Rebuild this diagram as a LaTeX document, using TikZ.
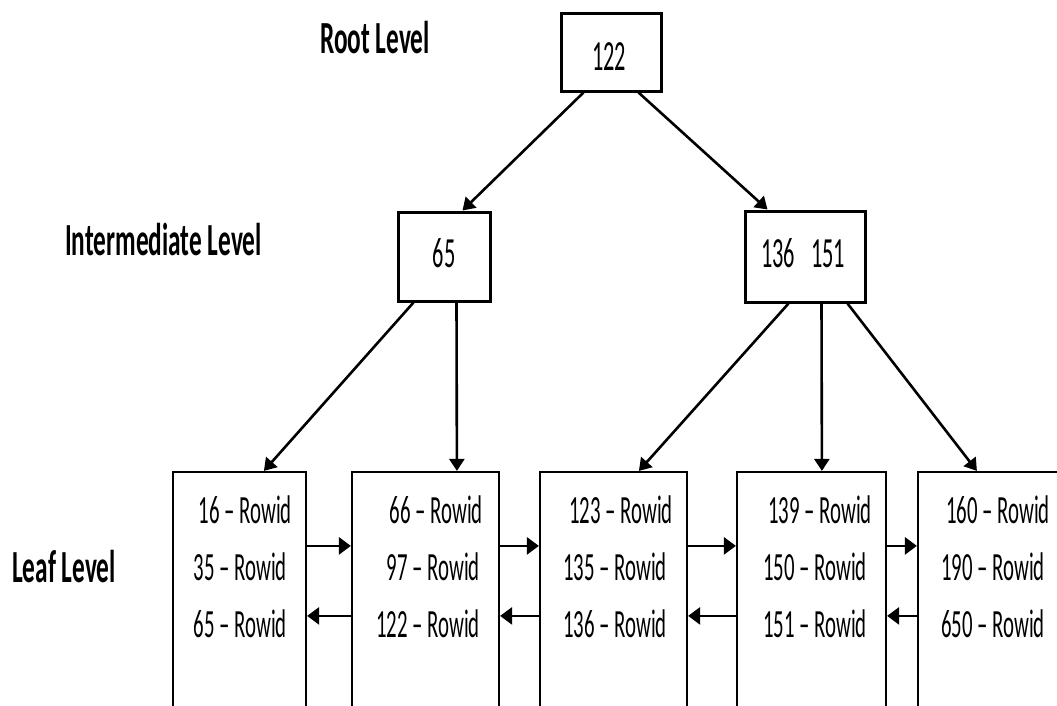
\documentclass[tikz,border=0pt]{standalone}
\usepackage{fontspec}
\usetikzlibrary{arrows.meta}
\newfontfamily\cf[FakeStretch=0.52]{Carlito}
\newfontfamily\cfb[FakeStretch=0.55]{Carlito}
\begin{document}
\begin{tikzpicture}[x=1pt,y=-1pt,
  topbox/.style={draw, line width=3pt, inner sep=0pt},
  leafbox/.style={draw, line width=2.2pt, inner sep=0pt, minimum height=270pt},
  conn/.style={line width=2.6pt, -{Triangle[length=12pt,width=15pt]}},
  hconn/.style={line width=2.6pt, -{Triangle[length=12pt,width=17pt]}},
  lvl/.style={inner sep=0pt, anchor=base west, font=\cfb\bfseries\fontsize{46}{50}\selectfont},
  num/.style={inner sep=0pt, anchor=base, font=\cf\fontsize{43}{46}\selectfont},
  row/.style={inner sep=0pt, anchor=base east, font=\cf\fontsize{40}{44}\selectfont}]
\useasboundingbox (0,0) rectangle (1057,705);
\clip (0,0) rectangle (1057,705);
\fill[white] (0,0) rectangle (1057,705);

% level labels
\node[lvl] (lroot) at (320,53) {Root Level};
\node[lvl] (lint) at (65,255) {Intermediate Level};
\node[lvl] (lleaf) at (12,582) {Leaf Level};

% upper boxes
\node[topbox, minimum width=100pt, minimum height=78pt] (root) at (611,52) {};
\node[topbox, minimum width=92pt, minimum height=89pt] (intL) at (444,256.5) {};
\node[topbox, minimum width=120pt, minimum height=91pt] (intR) at (805,256.5) {};
\node[num] (troot) at (609,70) {122};
\node[num] (tintL) at (444,267) {65};
\node[num] (tintR) at (803,267) {136\hspace{16pt}151};

% leaf boxes (cut off at the bottom)
\node[leafbox, minimum width=133pt] (leaf1) at (239.5,607) {};
\node[leafbox, minimum width=147pt] (leaf2) at (425.5,607) {};
\node[leafbox, minimum width=147pt] (leaf3) at (613.5,607) {};
\node[leafbox, minimum width=149pt] (leaf4) at (811.5,607) {};
\node[leafbox, minimum width=170pt] (leaf5) at (1003,607) {};

% leaf texts
\node[row] (a1) at (292,523) {16 – Rowid};
\node[row] (a2) at (287,580) {35 – Rowid};
\node[row] (a3) at (287,637) {65 – Rowid};
\node[row] (b1) at (483,523) {66 – Rowid};
\node[row] (b2) at (480,580) {97 – Rowid};
\node[row] (b3) at (480,637) {122 – Rowid};
\node[row] (c1) at (673,523) {123 – Rowid};
\node[row] (c2) at (667,580) {135 – Rowid};
\node[row] (c3) at (667,637) {136 – Rowid};
\node[row] (d1) at (872,523) {139 – Rowid};
\node[row] (d2) at (867,580) {150 – Rowid};
\node[row] (d3) at (867,637) {151 – Rowid};
\node[row] (e1) at (1050,523) {160 – Rowid};
\node[row] (e2) at (1045,580) {190 – Rowid};
\node[row] (e3) at (1045,637) {650 – Rowid};

% tree connectors
\draw[conn] ([xshift=24pt]root.south west) -- ([xshift=66pt]intL.north west);
\draw[conn] ([xshift=79pt]root.south west) -- ([xshift=24pt]intR.north west);
\draw[conn] ([xshift=17pt]intL.south west) -- ([xshift=92pt]leaf1.north west);
\draw[conn] ([xshift=60pt]intL.south west) -- ([xshift=106pt]leaf2.north west);
\draw[conn] ([xshift=45pt]intR.south west) -- ([xshift=100pt]leaf3.north west);
\draw[conn] ([xshift=78pt]intR.south west) -- ([xshift=86pt]leaf4.north west);
\draw[conn] ([xshift=104pt]intR.south west) -- ([xshift=60pt]leaf5.north west);

% sibling links
\foreach \p/\q in {leaf1/leaf2,leaf2/leaf3,leaf3/leaf4,leaf4/leaf5}{
  \draw[hconn] ([yshift=-75pt]\p.north east) -- ([yshift=-75pt]\q.north west);
  \draw[hconn] ([yshift=-145pt]\q.north west) -- ([yshift=-145pt]\p.north east);
}
\end{tikzpicture}
\end{document}
